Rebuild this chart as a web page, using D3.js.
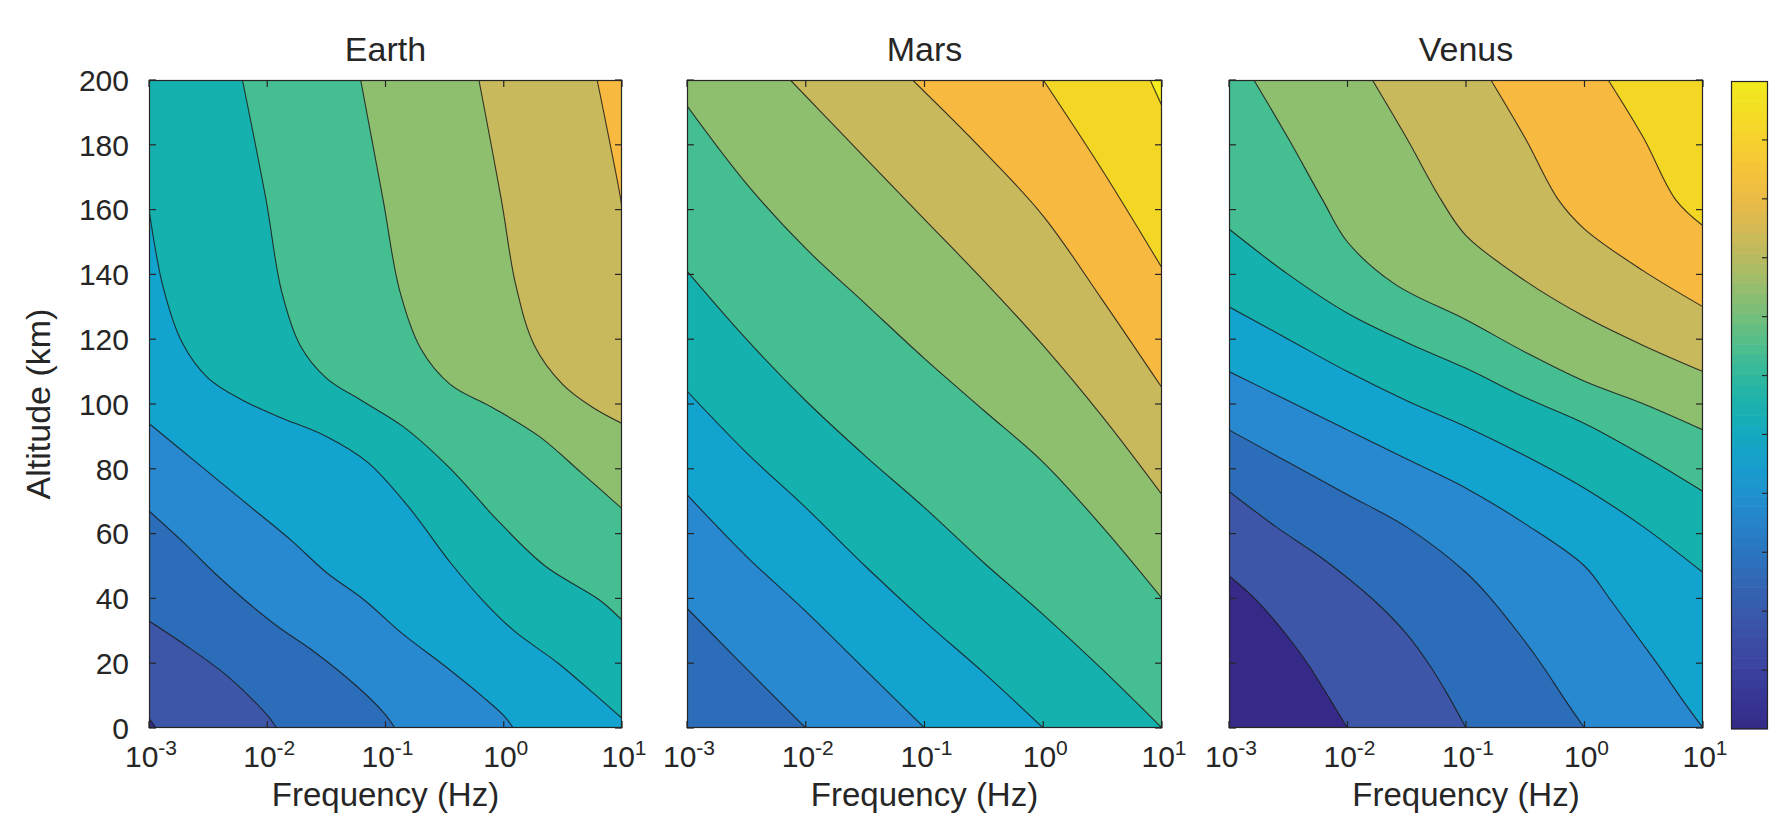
<!DOCTYPE html>
<html><head><meta charset="utf-8">
<script src="https://cdn.jsdelivr.net/npm/d3@7"></script>
<style>
body{margin:0;background:#fff}
text{font-family:"Liberation Sans",Arial,Helvetica,sans-serif;fill:#262626}
</style></head>
<body><svg id="chart" width="1778" height="815"></svg>
<script>
// ---------- data ----------
const planets = ["Earth", "Mars", "Venus"];
const freqTickExp = [-3, -2, -1, 0, 1];           // log10(Hz)
const altTicks = [0, 20, 40, 60, 80, 100, 120, 140, 160, 180, 200];
const bandColors = ["#352a87","#3e56a8","#2b6db8","#2888d0","#12a3cf","#15b1ae",
                    "#45bf91","#8ebf6f","#c7b95c","#f8b940","#f4d725","#f6ee1e"];
const colorbarStops = ["#352a87","#3a3e9f","#3e56a8","#2b6db8","#2888d0","#12a3cf","#15b1ae",
                       "#45bf91","#8ebf6f","#c7b95c","#f8b940","#f6d52a","#f0ea1c"];
const colorbarTicks = [1,2,3,4,5,6,7,8,9,10];
const colorbarMax = 11;

// contour lines: [log10 f, altitude km], ordered from lowest level to highest
const earthBase = 0;
const earthLines = [
  [[-3,3],[-2.94,0]],
  [[-3,33],[-2.67,25],[-2.37,17],[-2.15,9.7],[-1.99,3.5],[-1.92,0]],
  [[-3,67],[-2.7,57],[-2.45,48],[-2.19,39.5],[-1.9,31],[-1.62,24],[-1.24,12.8],[-1.01,4.5],[-0.92,0]],
  [[-3,94],[-2.6,82],[-2.2,70],[-1.8,58],[-1.5,48],[-1.18,39.5],[-0.86,29.2],[-0.49,18.9],[-0.18,9.7],[0.006,3.6],[0.08,0]],
  [[-3,160],[-2.88,136],[-2.72,119],[-2.5,108],[-2.2,101],[-1.9,96],[-1.5,90],[-1.15,82],[-0.8,68],[-0.45,51],[-0.18,39.5],[0.08,30.2],[0.46,20],[0.76,10.7],[1,3]],
  [[-2.21,200],[-2.01,163],[-1.88,135],[-1.72,118],[-1.5,108],[-1.2,101],[-0.85,93],[-0.45,80],[-0.05,64],[0.35,50],[0.81,39.5],[1,33.3]],
  [[-1.21,200],[-1.02,163],[-0.88,135],[-0.7,117],[-0.45,106],[-0.1,99],[0.3,90],[0.65,79],[1,67.7]],
  [[-0.21,200],[-0.02,163],[0.1,137],[0.26,118],[0.5,106],[0.75,99],[1,94]],
  [[0.79,200],[0.99,163],[1,160]]
];
const marsBase = 2;
const marsLines = [
  [[-3,37],[-2.6,22],[-2.3,11],[-2,0]],
  [[-3,72],[-2.5,53],[-2,36],[-1.5,18],[-1,0]],
  [[-3,104],[-2.5,85],[-2,68],[-1.5,50],[-1,33],[-0.5,17],[0,0]],
  [[-3,141],[-2.5,120],[-2,101],[-1.5,84],[-1,68],[-0.5,51],[0,35],[0.5,18],[1,0]],
  [[-3,192],[-2.5,168],[-2,148],[-1.5,131],[-1,114],[-0.5,98],[0,82],[0.5,62],[1,40]],
  [[-2.13,200],[-1.5,176],[-1,157],[-0.5,138],[0,118],[0.5,96],[1,72]],
  [[-1.1,200],[-0.5,178],[0,158],[0.5,132],[1,105]],
  [[0.0,200],[0.5,172],[1,142]],
  [[0.9,200],[1,192]]
];
const venusBase = 0;
const venusLines = [
  [[-3,47],[-2.77,39.5],[-2.5,28],[-2.32,19],[-2.15,9],[-2,0]],
  [[-3,73],[-2.6,62],[-2.2,52],[-1.78,39.5],[-1.5,29],[-1.3,19],[-1.15,10],[-1,0]],
  [[-3,92],[-2.5,82],[-2,72],[-1.5,62],[-1,48],[-0.78,39.5],[-0.55,29],[-0.35,19],[-0.17,9],[0,0]],
  [[-3,110],[-2.5,101],[-2,92],[-1.5,83],[-1,74],[-0.5,63],[0,50],[0.22,39.5],[0.45,28],[0.63,19],[0.82,9],[1,0]],
  [[-3,130],[-2.5,120],[-2,110],[-1.5,101],[-1,93],[-0.5,84],[0,74],[0.5,62],[1,48]],
  [[-3,154],[-2.5,140],[-2,128],[-1.5,119],[-1,111],[-0.5,102],[0,94],[0.5,84],[1,73]],
  [[-2.79,200],[-2.5,182],[-2.21,163],[-2,150],[-1.6,137],[-1,126],[-0.5,116],[0,107],[0.5,100],[1,92]],
  [[-1.79,200],[-1.5,182],[-1.21,163],[-1,152],[-0.5,138],[0,127],[0.5,118],[1,110]],
  [[-0.79,200],[-0.5,182],[-0.22,163],[0,154],[0.5,141],[1,130]],
  [[0.2,200],[0.5,182],[0.77,163],[1,155]]
];
const panelData = [
  {name: planets[0], base: earthBase, lines: earthLines},
  {name: planets[1], base: marsBase, lines: marsLines},
  {name: planets[2], base: venusBase, lines: venusLines}
];

// ---------- layout ----------
const panelX = [[149, 622], [687, 1162], [1229, 1703]];
const plotTop = 80, plotBottom = 728;
const svg = d3.select("#chart");
const defs = svg.append("defs");
const axisColor = "#262626";
const tickLen = 7;

panelData.forEach((p, pi) => {
  const [x0, x1] = panelX[pi];
  const x = d3.scaleLinear().domain([-3, 1]).range([x0, x1]);
  const y = d3.scaleLinear().domain([0, 200]).range([plotBottom, plotTop]);
  const clipId = "clip" + pi;
  defs.append("clipPath").attr("id", clipId)
    .append("rect").attr("x", x0).attr("y", plotTop).attr("width", x1 - x0).attr("height", plotBottom - plotTop);
  const g = svg.append("g").attr("clip-path", `url(#${clipId})`);
  g.append("rect").attr("x", x0).attr("y", plotTop).attr("width", x1 - x0).attr("height", plotBottom - plotTop)
    .attr("fill", bandColors[p.base]);
  const line = d3.line().x(d => x(d[0])).y(d => y(d[1])).curve(d3.curveCatmullRom.alpha(0.5));
  p.lines.forEach((pts, i) => {
    const first = pts[0], last = pts[pts.length - 1];
    const extra = [];
    if (last[1] <= 0.0001 && last[0] < 1) extra.push([1, 0]);
    extra.push([1, 200]);
    if (first[0] <= -3 + 1e-6 && first[1] < 200) extra.push([-3, 200]);
    let d = line(pts);
    extra.forEach(e => { d += `L${x(e[0])},${y(e[1])}`; });
    d += "Z";
    g.append("path").attr("d", d).attr("fill", bandColors[p.base + i + 1]).attr("stroke", "none");
  });
  p.lines.forEach(pts => {
    g.append("path").attr("d", line(pts)).attr("fill", "none")
      .attr("stroke", "#1b1b1b").attr("stroke-width", 1.1).attr("stroke-opacity", 0.85);
  });

  // box
  svg.append("rect").attr("x", x0 + 0.5).attr("y", plotTop + 0.5).attr("width", x1 - x0 - 1).attr("height", plotBottom - plotTop - 1)
    .attr("fill", "none").attr("stroke", axisColor).attr("stroke-width", 1.2);

  // ticks (inward, all four sides)
  const tg = svg.append("g").attr("stroke", axisColor).attr("stroke-width", 1.2);
  freqTickExp.forEach(t => {
    const xx = x(t);
    tg.append("line").attr("x1", xx).attr("x2", xx).attr("y1", plotBottom).attr("y2", plotBottom - tickLen);
    tg.append("line").attr("x1", xx).attr("x2", xx).attr("y1", plotTop).attr("y2", plotTop + tickLen);
  });
  altTicks.forEach(t => {
    const yy = y(t);
    tg.append("line").attr("x1", x0).attr("x2", x0 + tickLen).attr("y1", yy).attr("y2", yy);
    tg.append("line").attr("x1", x1).attr("x2", x1 - tickLen).attr("y1", yy).attr("y2", yy);
  });

  // x tick labels 10^n
  freqTickExp.forEach(t => {
    const txt = svg.append("text").attr("x", x(t) + 2).attr("y", 767).attr("text-anchor", "middle")
      .attr("font-size", 30);
    txt.append("tspan").text("10");
    txt.append("tspan").attr("dy", -12).attr("font-size", 21).text(String(t));
  });
  // y tick labels (first panel only)
  if (pi === 0) {
    altTicks.forEach(t => {
      svg.append("text").attr("x", 129).attr("y", y(t)).attr("dy", "0.36em")
        .attr("text-anchor", "end").attr("font-size", 30).text(t);
    });
    svg.append("text").attr("transform", `translate(50,${(plotTop + plotBottom) / 2}) rotate(-90)`)
      .attr("text-anchor", "middle").attr("font-size", 34).text("Altitude (km)");
  }
  // title and x label
  svg.append("text").attr("x", (x0 + x1) / 2).attr("y", 61).attr("text-anchor", "middle")
    .attr("font-size", 34).text(p.name);
  svg.append("text").attr("x", (x0 + x1) / 2).attr("y", 806).attr("text-anchor", "middle")
    .attr("font-size", 33).text("Frequency (Hz)");
});

// ---------- colorbar ----------
const cbX0 = 1731, cbX1 = 1768, cbTop = 81, cbBottom = 729;
const cbScale = d3.scaleLinear().domain([0, colorbarMax]).range([cbBottom, cbTop]);
const interp = d3.interpolateRgbBasis(colorbarStops);
const nSteps = 64;
d3.range(nSteps).forEach(i => {
  const v0 = i / nSteps * colorbarMax, v1 = (i + 1) / nSteps * colorbarMax;
  svg.append("rect").attr("x", cbX0).attr("width", cbX1 - cbX0)
    .attr("y", cbScale(v1)).attr("height", cbScale(v0) - cbScale(v1) + 0.6)
    .attr("fill", interp((i + 0.5) / nSteps));
});
svg.append("rect").attr("x", cbX0 + 0.5).attr("y", cbTop + 0.5).attr("width", cbX1 - cbX0 - 1).attr("height", cbBottom - cbTop - 1)
  .attr("fill", "none").attr("stroke", axisColor).attr("stroke-width", 1.2);
colorbarTicks.forEach(t => {
  svg.append("line").attr("x1", cbX1).attr("x2", cbX1 - 6).attr("y1", cbScale(t)).attr("y2", cbScale(t))
    .attr("stroke", axisColor).attr("stroke-width", 1.2);
});
</script></body></html>
